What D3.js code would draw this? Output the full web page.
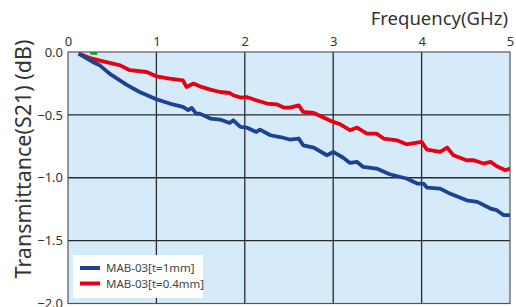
<!DOCTYPE html>
<html>
<head>
<meta charset="utf-8">
<script src="https://cdn.jsdelivr.net/npm/d3@7/dist/d3.min.js"></script>
<style>
  body { margin: 0; background: #fff; }
  text { font-family: "Noto Sans", sans-serif; fill: #333; }
</style>
</head>
<body>
<script>
// frequency (GHz) / transmittance (dB)
var freqThick = [0.12,0.28,0.36,0.47,0.66,0.81,1.00,1.15,1.30,1.36,1.40,1.45,1.49,1.61,1.72,1.83,1.87,1.95,2.02,2.13,2.17,2.29,2.40,2.51,2.61,2.66,2.78,2.93,3.00,3.11,3.19,3.27,3.34,3.49,3.64,3.76,3.83,3.95,4.02,4.06,4.21,4.32,4.51,4.63,4.78,4.85,4.93,5.00];
var s21Thick = [-0.013,-0.079,-0.106,-0.172,-0.259,-0.318,-0.376,-0.410,-0.437,-0.463,-0.445,-0.490,-0.490,-0.529,-0.537,-0.564,-0.543,-0.596,-0.601,-0.636,-0.617,-0.662,-0.676,-0.696,-0.688,-0.742,-0.760,-0.821,-0.795,-0.839,-0.882,-0.874,-0.914,-0.927,-0.972,-0.994,-1.006,-1.046,-1.046,-1.078,-1.086,-1.126,-1.179,-1.192,-1.245,-1.258,-1.298,-1.298];

var freqThin = [0.12,0.25,0.40,0.59,0.70,0.89,1.00,1.15,1.30,1.34,1.42,1.49,1.61,1.72,1.83,1.87,1.95,2.02,2.13,2.25,2.36,2.44,2.51,2.61,2.66,2.78,2.89,3.00,3.08,3.19,3.27,3.38,3.49,3.57,3.72,3.83,4.00,4.06,4.21,4.29,4.36,4.51,4.59,4.70,4.78,4.85,4.95,5.00];
var s21Thin = [-0.013,-0.048,-0.074,-0.106,-0.145,-0.159,-0.193,-0.211,-0.225,-0.278,-0.251,-0.273,-0.299,-0.318,-0.326,-0.344,-0.362,-0.358,-0.384,-0.410,-0.416,-0.442,-0.442,-0.424,-0.477,-0.485,-0.521,-0.556,-0.575,-0.622,-0.601,-0.649,-0.649,-0.688,-0.702,-0.734,-0.715,-0.776,-0.795,-0.760,-0.821,-0.861,-0.861,-0.887,-0.874,-0.909,-0.940,-0.927];

// small green stub mostly hidden under the start of the curves
var freqGreen = [0.25, 0.33];
var s21Green = [-0.004, -0.008];

var xTicks = [0, 1, 2, 3, 4, 5];
var yTicks = [0, -0.5, -1.0, -1.5, -2.0];
var seriesNames = ["MAB-03[t=1mm]", "MAB-03[t=0.4mm]"];
var seriesColors = ["#1b4297", "#e60012"];

var margin = {top: 52, left: 68};
var plot_w = 442, plot_h = 251.5;

var svg = d3.select("body").append("svg")
    .attr("width", 516).attr("height", 307);

var g = svg.append("g")
    .attr("transform", "translate(" + margin.left + "," + margin.top + ")");

var xScale = d3.scaleLinear().domain([0, 5]).range([0, plot_w]);
var yScale = d3.scaleLinear().domain([-2, 0]).range([plot_h, 0]);

// plot background
g.append("rect")
    .attr("width", plot_w).attr("height", plot_h)
    .style("fill", "#d5ebfa");

// grid
g.selectAll("line.vgrid")
    .data(xTicks.slice(1, -1)).enter().append("line")
    .attr("class", "vgrid")
    .attr("x1", function(d) { return xScale(d); })
    .attr("x2", function(d) { return xScale(d); })
    .attr("y1", 0).attr("y2", plot_h)
    .style("stroke", "#2a2a2a").style("stroke-width", 1.3);

g.selectAll("line.hgrid")
    .data(yTicks.slice(1, -1)).enter().append("line")
    .attr("class", "hgrid")
    .attr("x1", 0).attr("x2", plot_w)
    .attr("y1", function(d) { return yScale(d); })
    .attr("y2", function(d) { return yScale(d); })
    .style("stroke", "#2a2a2a").style("stroke-width", 1.3);

// border
g.append("rect")
    .attr("width", plot_w).attr("height", plot_h)
    .style("fill", "none").style("stroke", "#555").style("stroke-width", 1.2);

// axes (labels only, on top and left)
var xAxis = d3.axisTop(xScale).tickValues(xTicks).tickSize(0).tickPadding(6)
    .tickFormat(d3.format("d"));
var gx = g.append("g").call(xAxis);
gx.select(".domain").remove();
gx.selectAll("text").style("font-size", "13px").attr("fill", "#333")
    .style("font-family", "Noto Sans, sans-serif");

var yAxis = d3.axisLeft(yScale).tickValues(yTicks).tickSize(0).tickPadding(5)
    .tickFormat(function(d) { return d3.format(".1f")(d).replace("-", "\u2212"); });
var gy = g.append("g").call(yAxis);
gy.select(".domain").remove();
gy.selectAll("text").style("font-size", "13px").attr("fill", "#333")
    .style("font-family", "Noto Sans, sans-serif");

// curves
var line = d3.line()
    .x(function(d) { return xScale(d[0]); })
    .y(function(d) { return yScale(d[1]); });

var clip = g.append("clipPath").attr("id", "clip")
    .append("rect").attr("width", plot_w).attr("height", plot_h);

var curves = [
    {pts: d3.zip(freqGreen, s21Green), color: "#1a9a3a"},
    {pts: d3.zip(freqThin, s21Thin), color: seriesColors[1]},
    {pts: d3.zip(freqThick, s21Thick), color: seriesColors[0]}
];

g.selectAll("path.curve")
    .data(curves).enter().append("path")
    .attr("class", "curve")
    .attr("clip-path", "url(#clip)")
    .attr("d", function(d) { return line(d.pts); })
    .style("fill", "none")
    .style("stroke", function(d) { return d.color; })
    .style("stroke-width", 3.8)
    .style("stroke-linejoin", "round");

// titles
svg.append("text")
    .attr("x", 508).attr("y", 25)
    .style("text-anchor", "end")
    .style("font-size", "18.5px")
    .text("Frequency(GHz)");

svg.append("text")
    .attr("transform", "translate(31,159) rotate(-90)")
    .style("text-anchor", "middle")
    .style("font-size", "21.5px")
    .text("Transmittance(S21) (dB)");

// legend
var legend = svg.append("g").attr("transform", "translate(73,255)");
legend.append("rect")
    .attr("width", 130).attr("height", 43)
    .style("fill", "#fff");

var items = legend.selectAll("g.item")
    .data(seriesNames).enter().append("g")
    .attr("class", "item")
    .attr("transform", function(d, i) { return "translate(0," + (13 + i * 15.5) + ")"; });

items.append("line")
    .attr("x1", 7).attr("x2", 27)
    .style("stroke", function(d, i) { return seriesColors[i]; })
    .style("stroke-width", 4);

items.append("text")
    .attr("x", 33).attr("y", 4)
    .style("font-size", "11.5px")
    .style("fill", "#444")
    .text(function(d) { return d; });
</script>
</body>
</html>
